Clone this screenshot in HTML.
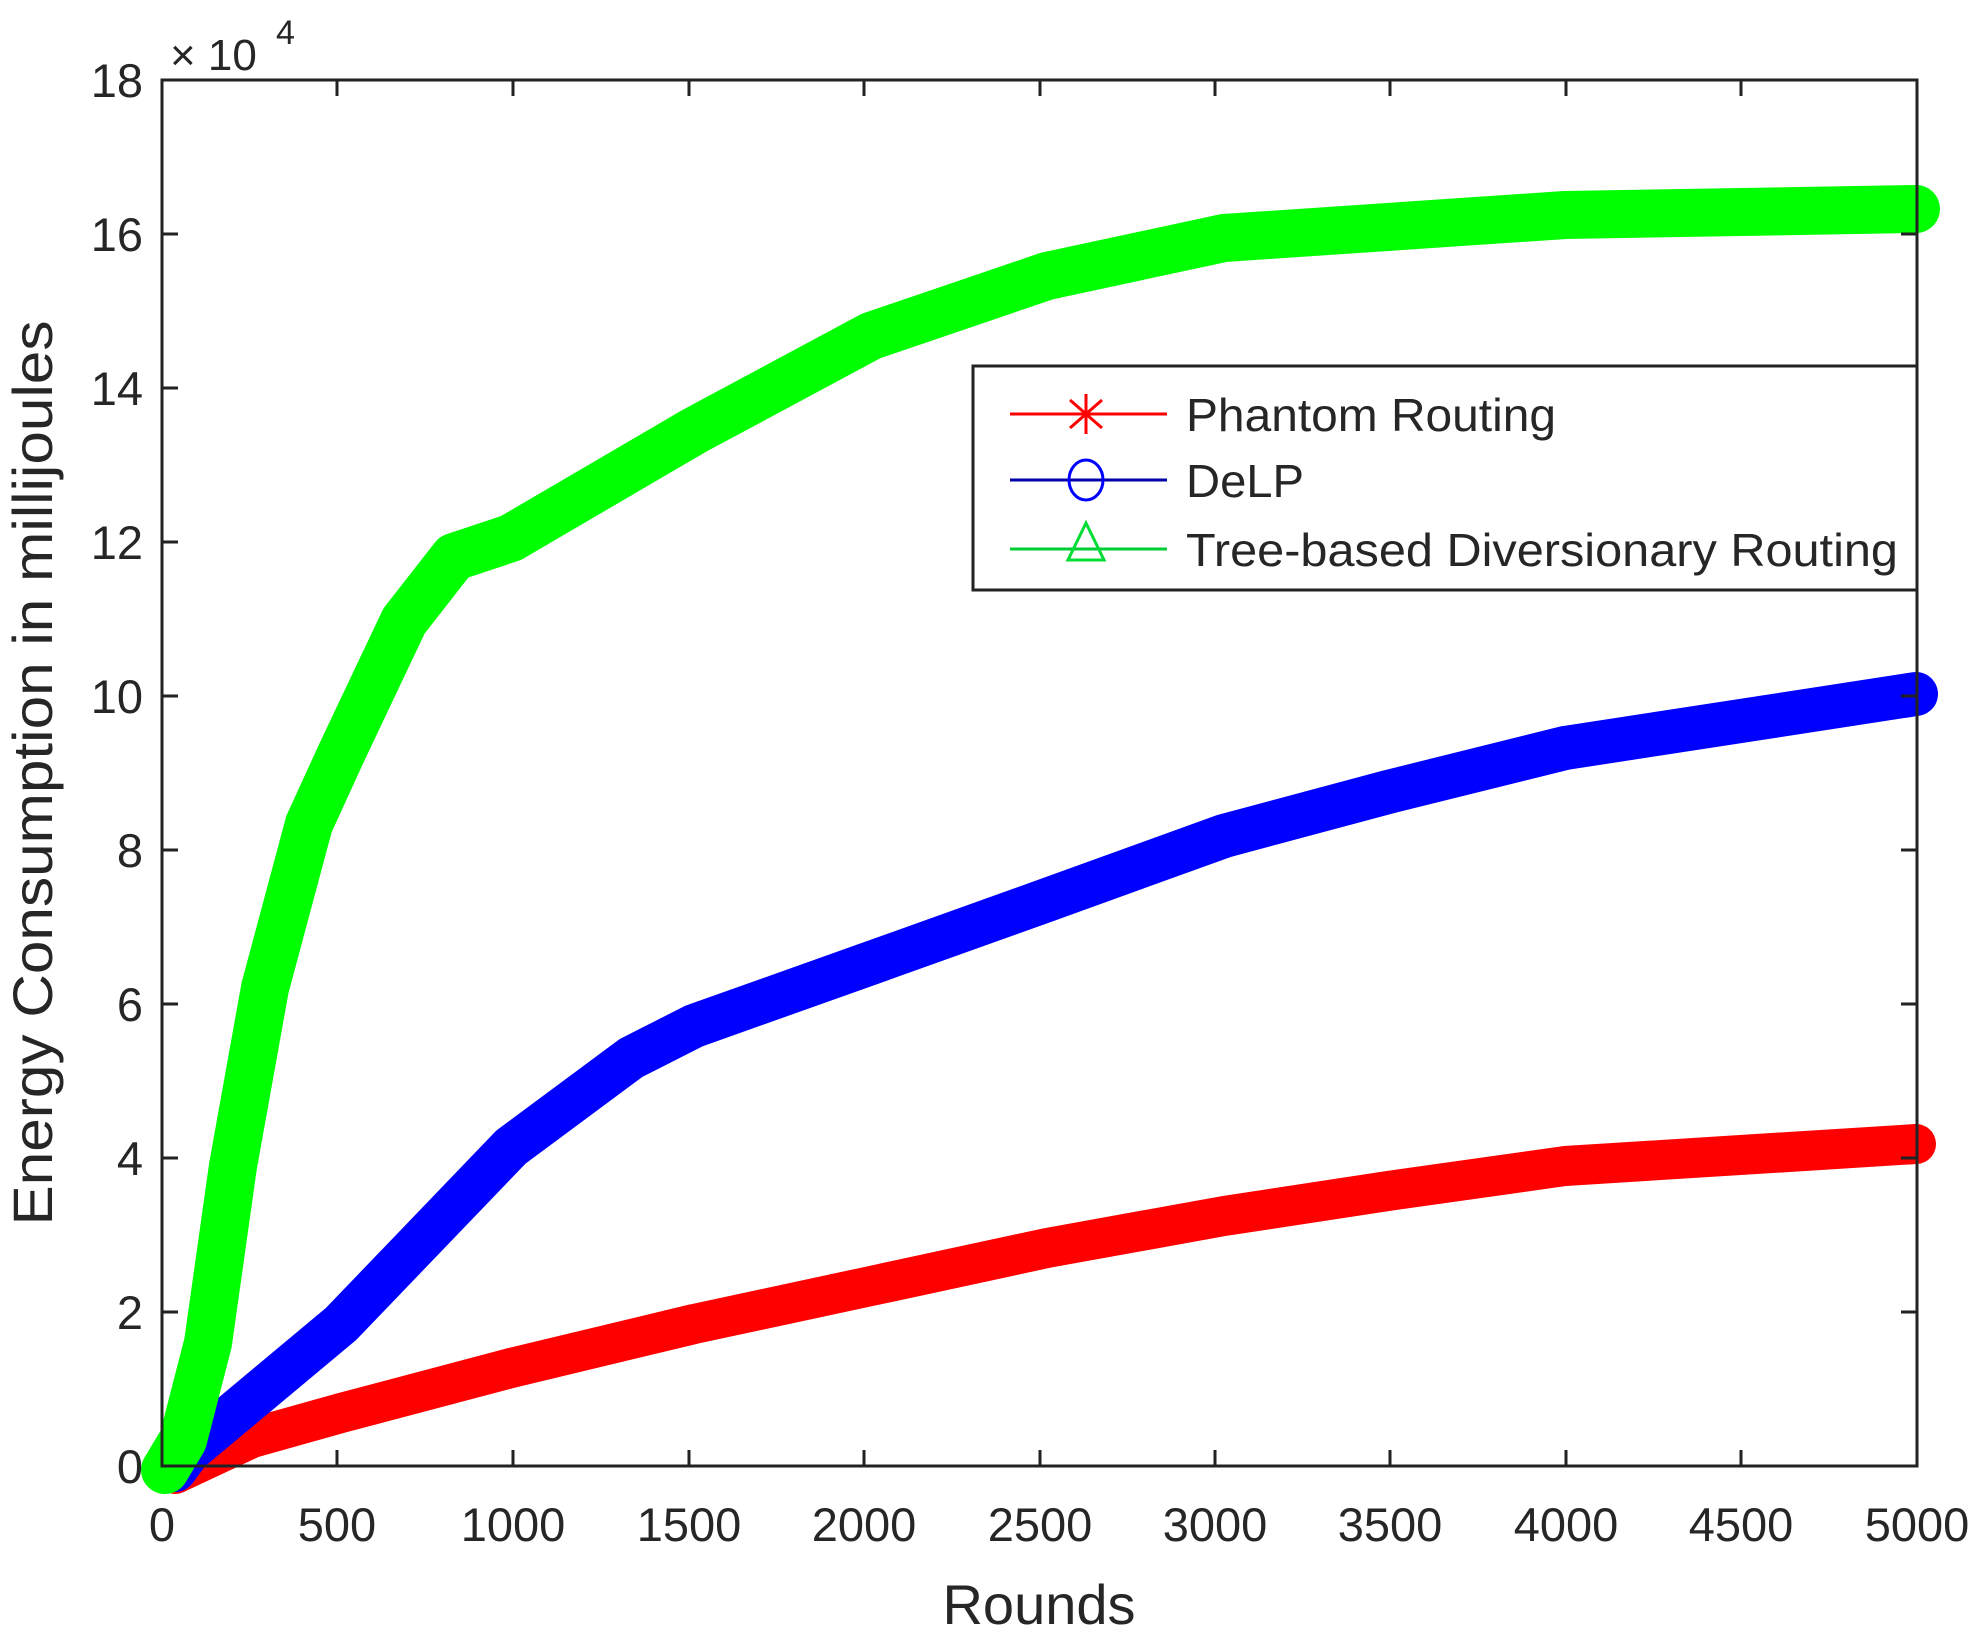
<!DOCTYPE html>
<html><head><meta charset="utf-8"><style>
html,body{margin:0;padding:0;background:#fff;}
svg{display:block;}
text{font-family:"Liberation Sans",sans-serif;fill:#262626;}
</style></head><body>
<svg width="1979" height="1635" viewBox="0 0 1979 1635" xmlns="http://www.w3.org/2000/svg">
<rect width="1979" height="1635" fill="#fff"/>
<g fill="none" stroke-linejoin="round" stroke-linecap="round">
<polyline stroke="#ff0000" stroke-width="40" points="175,1474 252,1438 341,1413 511,1368 694,1324 871,1286 1047,1248 1224,1216 1388,1191 1565,1166 1916,1144"/>
<polyline stroke="#0000ff" stroke-width="44" points="175,1470 189,1451 341,1324 511,1147 631,1058 694,1026 871,963 1047,900 1224,836 1388,792 1565,748 1916,694"/>
<polyline stroke="#00ff00" stroke-width="48" points="165,1470 183,1440 208,1343 233,1166 265,988 309,824 341,754 404,621 454,557 511,538 694,431 871,336 1047,276 1224,238 1565,215 1916,209"/>
</g>
<rect x="162" y="80" width="1755" height="1386" fill="none" stroke="#222" stroke-width="3"/>
<g stroke="#222" stroke-width="3">
<line x1="337" y1="1466" x2="337" y2="1450"/><line x1="513" y1="1466" x2="513" y2="1450"/><line x1="689" y1="1466" x2="689" y2="1450"/><line x1="864" y1="1466" x2="864" y2="1450"/><line x1="1040" y1="1466" x2="1040" y2="1450"/><line x1="1215" y1="1466" x2="1215" y2="1450"/><line x1="1390" y1="1466" x2="1390" y2="1450"/><line x1="1566" y1="1466" x2="1566" y2="1450"/><line x1="1741" y1="1466" x2="1741" y2="1450"/>
<line x1="337" y1="80" x2="337" y2="96"/><line x1="513" y1="80" x2="513" y2="96"/><line x1="689" y1="80" x2="689" y2="96"/><line x1="864" y1="80" x2="864" y2="96"/><line x1="1040" y1="80" x2="1040" y2="96"/><line x1="1215" y1="80" x2="1215" y2="96"/><line x1="1390" y1="80" x2="1390" y2="96"/><line x1="1566" y1="80" x2="1566" y2="96"/><line x1="1741" y1="80" x2="1741" y2="96"/>
<line x1="162" y1="1312" x2="178" y2="1312"/><line x1="162" y1="1158" x2="178" y2="1158"/><line x1="162" y1="1004" x2="178" y2="1004"/><line x1="162" y1="850" x2="178" y2="850"/><line x1="162" y1="696" x2="178" y2="696"/><line x1="162" y1="542" x2="178" y2="542"/><line x1="162" y1="388" x2="178" y2="388"/><line x1="162" y1="234" x2="178" y2="234"/>
<line x1="1917" y1="1312" x2="1901" y2="1312"/><line x1="1917" y1="1158" x2="1901" y2="1158"/><line x1="1917" y1="1004" x2="1901" y2="1004"/><line x1="1917" y1="850" x2="1901" y2="850"/><line x1="1917" y1="696" x2="1901" y2="696"/><line x1="1917" y1="542" x2="1901" y2="542"/><line x1="1917" y1="388" x2="1901" y2="388"/><line x1="1917" y1="234" x2="1901" y2="234"/>
</g>
<g font-size="47" text-anchor="end">
<text x="143" y="1483">0</text><text x="143" y="1329">2</text><text x="143" y="1175">4</text><text x="143" y="1021">6</text><text x="143" y="867">8</text><text x="143" y="713">10</text><text x="143" y="559">12</text><text x="143" y="405">14</text><text x="143" y="251">16</text><text x="143" y="97">18</text>
</g>
<text x="170" y="70" font-size="44">× 10</text>
<text x="276" y="44" font-size="34">4</text>
<g font-size="47" text-anchor="middle">
<text x="162" y="1541">0</text><text x="337" y="1541">500</text><text x="513" y="1541">1000</text><text x="689" y="1541">1500</text><text x="864" y="1541">2000</text><text x="1040" y="1541">2500</text><text x="1215" y="1541">3000</text><text x="1390" y="1541">3500</text><text x="1566" y="1541">4000</text><text x="1741" y="1541">4500</text><text x="1917" y="1541">5000</text>
</g>
<text x="1039" y="1624" font-size="56" text-anchor="middle">Rounds</text>
<text transform="translate(52,773) rotate(-90)" font-size="56" text-anchor="middle" textLength="905" lengthAdjust="spacingAndGlyphs">Energy Consumption in millijoules</text>
<rect x="973" y="366" width="944" height="224" fill="#fff" stroke="#222" stroke-width="3"/>
<line x1="1010" y1="414" x2="1167" y2="414" stroke="#ff0000" stroke-width="3"/>
<g stroke="#ff0000" stroke-width="3"><line x1="1086" y1="394" x2="1086" y2="434"/><line x1="1070" y1="400" x2="1102" y2="428"/><line x1="1070" y1="428" x2="1102" y2="400"/></g>
<line x1="1010" y1="480" x2="1167" y2="480" stroke="#0000aa" stroke-width="3"/>
<ellipse cx="1086" cy="480" rx="17" ry="20" fill="none" stroke="#0000ff" stroke-width="3"/>
<line x1="1010" y1="549" x2="1167" y2="549" stroke="#00cc33" stroke-width="3"/>
<polygon points="1086,523 1068,560 1104,560" fill="none" stroke="#00dd33" stroke-width="3"/>
<g font-size="46" fill="#111">
<text x="1186" y="431" textLength="370" lengthAdjust="spacingAndGlyphs">Phantom Routing</text>
<text x="1186" y="497" textLength="118" lengthAdjust="spacingAndGlyphs">DeLP</text>
<text x="1186" y="566" textLength="712" lengthAdjust="spacingAndGlyphs">Tree-based Diversionary Routing</text>
</g>
</svg>
</body></html>
